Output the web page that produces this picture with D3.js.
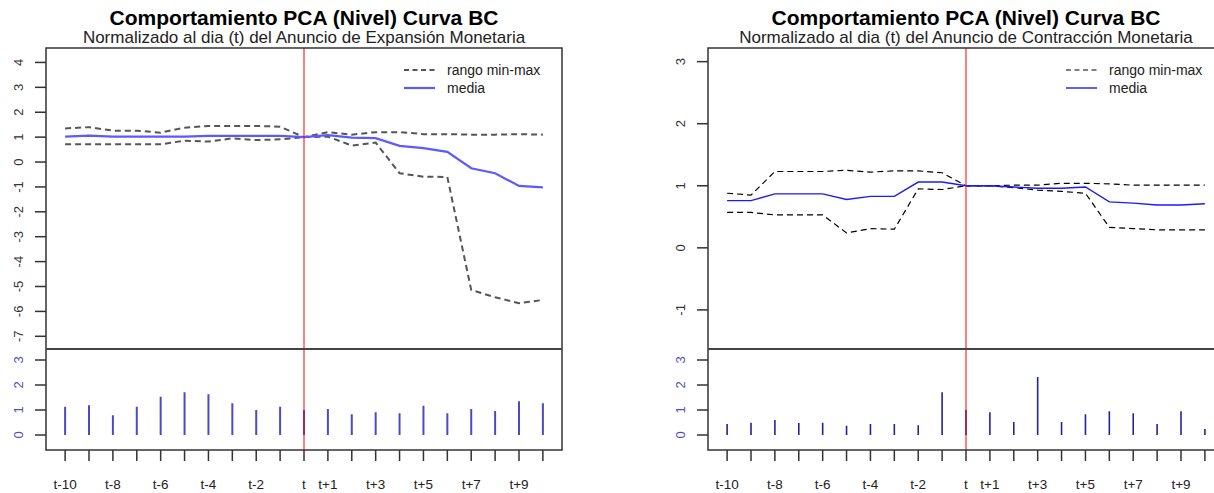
<!DOCTYPE html>
<html><head><meta charset="utf-8">
<script src="https://cdn.jsdelivr.net/npm/d3@7"></script>
<style>
html,body{margin:0;padding:0;background:#fff;}
svg{display:block;font-family:"Liberation Sans",Arial,sans-serif;}
</style></head>
<body>
<svg id="chart" width="1214" height="493"></svg>
<script>
// ---- data ----
const xIndex = d3.range(-10, 11);
const xLabels = ["t-10","t-9","t-8","t-7","t-6","t-5","t-4","t-3","t-2","t-1","t","t+1","t+2","t+3","t+4","t+5","t+6","t+7","t+8","t+9","t+10"];

const expMean = [1.02,1.06,1.02,1.02,1.02,1.02,1.05,1.05,1.05,1.05,1.00,1.08,0.98,0.96,0.65,0.56,0.41,-0.25,-0.45,-0.96,-1.02];
const expMax  = [1.35,1.40,1.26,1.26,1.18,1.38,1.45,1.45,1.45,1.42,1.00,1.20,1.10,1.20,1.20,1.12,1.12,1.10,1.10,1.12,1.10];
const expMin  = [0.71,0.71,0.71,0.71,0.71,0.86,0.82,0.95,0.88,0.91,1.00,1.02,0.66,0.78,-0.45,-0.59,-0.60,-5.14,-5.43,-5.67,-5.54];
const expVol  = [1.13,1.19,0.79,1.13,1.53,1.71,1.63,1.27,1.00,1.13,1.00,1.04,0.83,0.91,0.87,1.17,0.87,1.04,0.96,1.35,1.27];

const conMean = [0.76,0.76,0.87,0.87,0.87,0.78,0.83,0.83,1.06,1.06,1.00,1.00,0.98,0.96,0.96,0.98,0.74,0.72,0.69,0.69,0.71];
const conMax  = [0.88,0.85,1.23,1.23,1.23,1.25,1.22,1.24,1.24,1.21,1.00,1.00,1.01,1.01,1.04,1.04,1.03,1.01,1.01,1.01,1.01];
const conMin  = [0.57,0.57,0.53,0.53,0.53,0.24,0.31,0.30,0.95,0.94,1.00,1.00,0.97,0.93,0.91,0.88,0.33,0.31,0.29,0.29,0.29];
const conVol  = [0.44,0.49,0.60,0.48,0.49,0.37,0.44,0.44,0.39,1.71,1.00,0.91,0.52,2.32,0.52,0.83,0.95,0.87,0.44,0.95,0.24];

const titleText = "Comportamiento PCA (Nivel) Curva BC";
const subExp = "Normalizado al dia (t) del Anuncio de Expansión Monetaria";
const subCon = "Normalizado al dia (t) del Anuncio de Contracción Monetaria";
const legendLabels = ["rango min-max", "media"];
const upperTicksExp = d3.range(-7, 5);
const upperTicksCon = d3.range(-1, 4);
const lowerTicks = [0, 1, 2, 3];

const svg = d3.select("#chart");

function panel(cfg) {
  const g = svg.append("g");
  const left = cfg.left, right = cfg.left + 516;
  const top = 48, mid = 349, bottom = 450;
  const x = d3.scaleLinear().domain([-10.8, 10.8]).range([left, right]);
  const yU = d3.scaleLinear().domain(cfg.upperDomain).range([mid, top]);
  const yL = d3.scaleLinear().domain([-0.6, 3.44]).range([bottom, mid]);

  // titles
  const cx = (left + right) / 2;
  g.append("text").attr("x", cx).attr("y", 25).attr("text-anchor", "middle")
    .attr("font-size", 21).attr("font-weight", "bold").attr("fill", "#000").text(titleText);
  g.append("text").attr("x", cx).attr("y", 43).attr("text-anchor", "middle")
    .attr("font-size", 17).attr("fill", "#222").text(cfg.subtitle);

  // lines
  const line = d3.line().x((d, i) => x(xIndex[i])).y(d => yU(d));
  g.append("path").attr("d", line(cfg.max)).attr("fill", "none")
    .attr("stroke", cfg.dashColor).attr("stroke-width", cfg.dashWidth).attr("stroke-dasharray", "6,4");
  g.append("path").attr("d", line(cfg.min)).attr("fill", "none")
    .attr("stroke", cfg.dashColor).attr("stroke-width", cfg.dashWidth).attr("stroke-dasharray", "6,4");
  g.append("path").attr("d", line(cfg.mean)).attr("fill", "none")
    .attr("stroke", cfg.meanColor).attr("stroke-width", cfg.meanWidth);

  // volume bars
  g.selectAll(".bar").data(cfg.vol).enter().append("line")
    .attr("x1", (d, i) => x(xIndex[i])).attr("x2", (d, i) => x(xIndex[i]))
    .attr("y1", yL(0)).attr("y2", d => yL(d))
    .attr("stroke", cfg.barColor).attr("stroke-width", cfg.barWidth);

  // red event line
  g.append("line").attr("x1", x(0)).attr("x2", x(0)).attr("y1", top).attr("y2", bottom)
    .attr("stroke", "#ff0000").attr("stroke-width", 1);

  // frame and divider
  g.append("rect").attr("x", left).attr("y", top).attr("width", right - left).attr("height", bottom - top)
    .attr("fill", "none").attr("stroke", "#333").attr("stroke-width", 1.5);
  g.append("line").attr("x1", left).attr("x2", right).attr("y1", mid).attr("y2", mid)
    .attr("stroke", "#444").attr("stroke-width", 2);

  // upper y axis
  cfg.upperTicks.forEach(v => {
    g.append("line").attr("x1", left - 11).attr("x2", left).attr("y1", yU(v)).attr("y2", yU(v))
      .attr("stroke", "#333").attr("stroke-width", 1.5);
    g.append("text").attr("transform", `translate(${left - 28},${yU(v)}) rotate(-90)`)
      .attr("text-anchor", "middle").attr("dy", "0.35em").attr("font-size", 13)
      .attr("fill", "#333").text(v);
  });
  // lower y axis
  lowerTicks.forEach(v => {
    g.append("line").attr("x1", left - 11).attr("x2", left).attr("y1", yL(v)).attr("y2", yL(v))
      .attr("stroke", "#333").attr("stroke-width", 1.5);
    g.append("text").attr("transform", `translate(${left - 28},${yL(v)}) rotate(-90)`)
      .attr("text-anchor", "middle").attr("dy", "0.35em").attr("font-size", 13)
      .attr("fill", "#5050c0").text(v);
  });

  // x axis ticks and labels (R-style overlap culling)
  let lastRight = -Infinity;
  xIndex.forEach((v, i) => {
    g.append("line").attr("x1", x(v)).attr("x2", x(v)).attr("y1", bottom).attr("y2", bottom + 11)
      .attr("stroke", "#333").attr("stroke-width", 1.5);
    const t = g.append("text").attr("x", x(v)).attr("y", 489).attr("text-anchor", "middle")
      .attr("font-size", 13.5).attr("fill", "#222").text(xLabels[i]);
    const w = t.node().getComputedTextLength();
    if (x(v) - w / 2 < lastRight + 10) t.remove();
    else lastRight = x(v) + w / 2;
  });

  // legend
  const lx = left + 358;
  g.append("line").attr("x1", lx).attr("x2", lx + 31).attr("y1", 70).attr("y2", 70)
    .attr("stroke", cfg.dashColor).attr("stroke-width", cfg.dashWidth > 1.5 ? 1.8 : 1.2).attr("stroke-dasharray", "5,3.5");
  g.append("line").attr("x1", lx).attr("x2", lx + 31).attr("y1", 88).attr("y2", 88)
    .attr("stroke", cfg.meanColor).attr("stroke-width", cfg.meanWidth);
  legendLabels.forEach((s, i) => {
    g.append("text").attr("x", lx + 43).attr("y", 70 + 18 * i).attr("dy", "0.35em")
      .attr("font-size", 14).attr("fill", "#222").text(s);
  });
}

panel({left: 46, upperDomain: [-7.51, 4.58], upperTicks: upperTicksExp, subtitle: subExp,
  mean: expMean, max: expMax, min: expMin, vol: expVol,
  dashColor: "#555", dashWidth: 2, meanColor: "#5a5aff", meanWidth: 2.2,
  barColor: "#4a4ac4", barWidth: 2});
panel({left: 708, upperDomain: [-1.63, 3.22], upperTicks: upperTicksCon, subtitle: subCon,
  mean: conMean, max: conMax, min: conMin, vol: conVol,
  dashColor: "#000", dashWidth: 1.2, meanColor: "#1a1aff", meanWidth: 1.4,
  barColor: "#23239c", barWidth: 1.6});
</script>
</body></html>
